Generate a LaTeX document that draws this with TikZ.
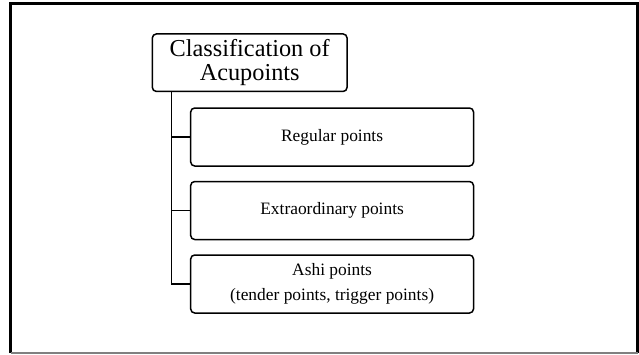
\documentclass[tikz,border=0pt]{standalone}
\usepackage{fontspec}
\setmainfont{Liberation Serif}
\begin{document}
\begin{tikzpicture}[x=1pt,y=-1pt,
  boxstyle/.style={draw=black,line width=1.5pt,rounded corners=4pt,inner sep=0pt,align=center,text=black},
  topbox/.style={boxstyle,minimum width=194.7pt,minimum height=57.5pt,font=\fontsize{24.3}{24}\selectfont},
  childbox/.style={boxstyle,minimum width=282.8pt,minimum height=58pt,font=\fontsize{17.4}{25}\selectfont},
  conn/.style={draw=black,line width=1.5pt}]
\useasboundingbox (0,0) rectangle (639,354);
% outer frame
\draw[black,line width=2.6pt] (10.5,353) -- (10.5,3.7) -- (637.7,3.7) -- (637.7,353);
\draw[gray,line width=1.4pt] (10.5,352.8) -- (637.7,352.8);
% nodes
\node[topbox] (top) at (249.7,62.7) {Classification of\\Acupoints};
\node[childbox] (c1) at (332.1,137) {Regular points};
\node[childbox] (c2) at (332.1,210.5) {Extraordinary points};
\node[childbox] (c3) at (332.1,284) {Ashi points\\(tender points, trigger points)};
% connectors
\coordinate (trunk) at ([xshift=19.7pt]top.south west);
\draw[conn] (trunk) |- (c3.west);
\draw[conn] (trunk |- c1.west) -- (c1.west);
\draw[conn] (trunk |- c2.west) -- (c2.west);
\end{tikzpicture}
\end{document}
